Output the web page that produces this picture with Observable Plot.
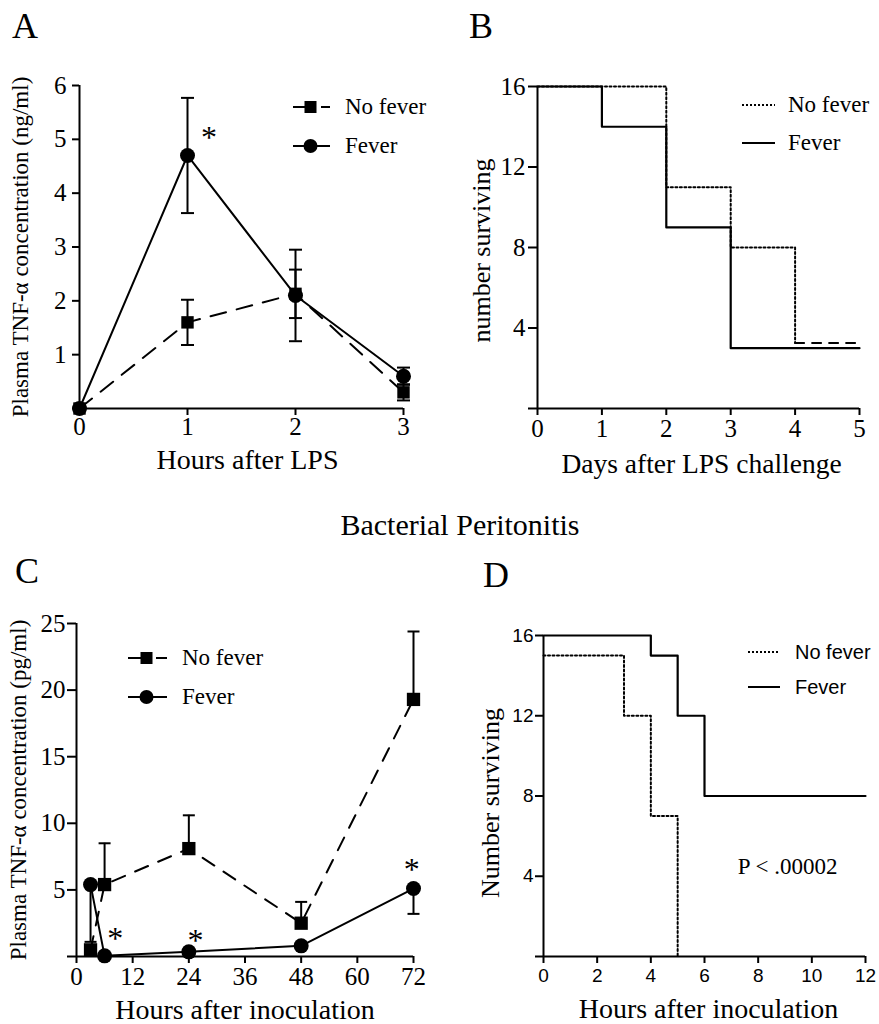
<!DOCTYPE html>
<html><head><meta charset="utf-8">
<script src="https://cdn.jsdelivr.net/npm/d3@7"></script>
<script src="https://cdn.jsdelivr.net/npm/@observablehq/plot@0.6"></script>
<style>
body{margin:0;background:#fff;}
#root{position:relative;width:879px;height:1024px;overflow:hidden;background:#fff;}
</style></head><body><div id="root"></div>
<script>
// ---------- Panel A: LPS, plasma TNF-alpha (ng/ml) ----------
const hoursA = [0, 1, 2, 3];
const noFeverA = [0, 1.6, 2.13, 0.3];
const noFeverErrA = [0, 0.42, 0.45, 0.15];
const feverA = [0, 4.7, 2.1, 0.6];
const feverErrA = [0, 1.07, 0.85, 0.16];
const starsA = [{x: 1.2, y: 5.15}];
const xTicksA = [0, 1, 2, 3];
const yTicksA = [0, 1, 2, 3, 4, 5, 6];

// ---------- Panel B: LPS survival ----------
const daysFeverB = [0, 1, 2, 3, 5];
const survFeverB = [16, 14, 9, 3, 3];
const daysNoFeverB = [0, 2, 3, 4, 5];
const survNoFeverB = [16, 11, 8, 3.25, 3.25];
const xTicksB = [0, 1, 2, 3, 4, 5];
const yTicksB = [0, 4, 8, 12, 16];

// ---------- Panel C: peritonitis, plasma TNF-alpha (pg/ml) ----------
const hoursC = [3, 6, 24, 48, 72];
const noFeverC = [0.5, 5.4, 8.1, 2.5, 19.3];
const noFeverErrC = [0, 3.1, 2.5, 1.6, 5.1];   // upper bars
const feverC = [5.4, 0.05, 0.35, 0.8, 5.1];
const feverErrC = [4.3, 0, 0, 0, 1.9];        // lower bars
const starsC = [{x: 8.3, y: 1.8}, {x: 25.4, y: 1.65}, {x: 71.6, y: 7.0}];
const xTicksC = [0, 12, 24, 36, 48, 60, 72];
const yTicksC = [0, 5, 10, 15, 20, 25];

// ---------- Panel D: peritonitis survival ----------
const hoursFeverD = [0, 4, 5, 6, 12];
const survFeverD = [16, 15, 12, 8, 8];
const hoursNoFeverD = [0, 3, 4, 5];
const survNoFeverD = [15, 12, 7, 0];
const pValueD = [{x: 9.1, y: 4.5, text: "P < .00002"}];
const xTicksD = [0, 2, 4, 6, 8, 10, 12];
const yTicksD = [0, 4, 8, 12, 16];

const SERIF = "Liberation Serif, Times New Roman, serif";
const SANS = "Liberation Sans, Arial, sans-serif";
const root = document.getElementById("root");
const capSymbol = {draw(ctx, size) { const r = Math.sqrt(size / Math.PI); ctx.moveTo(-r, 0); ctx.lineTo(r, 0); }};
const noZero = d => d === 0 ? "" : String(d);
const zip = (xs, ys, es) => xs.map((x, i) => ({x, y: ys[i], err: es ? es[i] : 0}));
const styleFor = (ff, fs) => ({fontFamily: ff, fontSize: fs + "px", background: "white", overflow: "visible", color: "black"});

function place(svg, left, top) {
  svg.style.position = "absolute";
  svg.style.left = left + "px";
  svg.style.top = top + "px";
  root.appendChild(svg);
}
function axes(o) {
  return [
    Plot.ruleX([o.x0], {strokeWidth: 2}),
    Plot.ruleY([0], {strokeWidth: 2}),
    Plot.axisX({ticks: o.xt, tickSize: o.xts, tickPadding: o.xtp, label: null, strokeWidth: 2, fontSize: o.fs, tickFormat: d => String(d)}),
    Plot.axisY({ticks: o.yt, tickSize: o.yts, tickPadding: o.ytp, label: null, strokeWidth: 2, fontSize: o.fs, tickFormat: noZero}),
    Plot.text([o.xl], {frameAnchor: "bottom", dx: o.xdx || 0, dy: o.xdy, lineAnchor: "bottom", textAnchor: "middle", fontSize: o.xlfs, fontFamily: SERIF, text: d => d}),
    Plot.text([o.yl], {frameAnchor: "left", dx: o.ydx, dy: o.ydy || 0, rotate: -90, lineAnchor: "bottom", textAnchor: "middle", fontSize: o.ylfs, fontFamily: SERIF, text: d => d})
  ];
}

// ---- A ----
const A_nf = zip(hoursA, noFeverA, noFeverErrA);
const A_f = zip(hoursA, feverA, feverErrA);
const errA = [...A_nf, ...A_f].filter(d => d.err > 0);
place(Plot.plot({
  width: 440, height: 430, marginLeft: 79, marginRight: 37, marginTop: 35, marginBottom: 72,
  x: {domain: [0, 3]}, y: {domain: [0, 6]},
  style: styleFor(SERIF, 25),
  marks: [
    ...axes({x0: 0, xt: xTicksA, yt: yTicksA, xts: 7, xtp: 2, yts: 7, ytp: 6, fs: 25,
      xl: "Hours after LPS", xdx: 6, xdy: 60, xlfs: 28, yl: "Plasma TNF-α concentration (ng/ml)", ydx: -52, ylfs: 23}),
    Plot.line(A_nf, {x: "x", y: "y", stroke: "black", strokeWidth: 2, strokeDasharray: "16,11"}),
    Plot.line(A_f, {x: "x", y: "y", stroke: "black", strokeWidth: 2}),
    Plot.ruleX(errA, {x: "x", y1: d => d.y - d.err, y2: d => d.y + d.err, strokeWidth: 2}),
    Plot.dot(errA, {x: "x", y: d => d.y + d.err, symbol: capSymbol, r: 6.5, stroke: "black", strokeWidth: 2}),
    Plot.dot(errA, {x: "x", y: d => d.y - d.err, symbol: capSymbol, r: 6.5, stroke: "black", strokeWidth: 2}),
    Plot.dot(A_nf, {x: "x", y: "y", symbol: "square", r: 7, fill: "black"}),
    Plot.dot(A_f, {x: "x", y: "y", symbol: "circle", r: 7.5, fill: "black"}),
    Plot.text(starsA, {x: "x", y: "y", text: () => "*", fontSize: 32, dy: 6, fontFamily: SERIF})
  ]
}), 0, 50);

// ---- B ----
const B_f = zip(daysFeverB, survFeverB);
const B_nf = zip(daysNoFeverB, survNoFeverB);
place(Plot.plot({
  width: 439, height: 430, marginLeft: 97, marginRight: 20, marginTop: 36, marginBottom: 72,
  x: {domain: [0, 5]}, y: {domain: [0, 16]},
  style: styleFor(SERIF, 25),
  marks: [
    ...axes({x0: 0, xt: xTicksB, yt: yTicksB, xts: 7, xtp: 4, yts: 9, ytp: 3, fs: 25,
      xl: "Days after LPS challenge", xdx: 3, xdy: 64, xlfs: 27.5, yl: "number surviving", ydx: -48, ydy: 3, ylfs: 26}),
    Plot.line(B_nf.slice(0, 4), {x: "x", y: "y", curve: "step-after", stroke: "black", strokeWidth: 2, strokeDasharray: "2,2.5"}),
    Plot.line(B_nf.slice(3), {x: "x", y: "y", curve: "step-after", stroke: "black", strokeWidth: 2, strokeDasharray: "9,8"}),
    Plot.line(B_f, {x: "x", y: "y", curve: "step-after", stroke: "black", strokeWidth: 2.2})
  ]
}), 440, 50);

// ---- C ----
const C_nf = zip(hoursC, noFeverC, noFeverErrC);
const C_f = zip(hoursC, feverC, feverErrC);
const C_nfErr = C_nf.filter(d => d.err > 0);
const C_fErr = C_f.filter(d => d.err > 0);
place(Plot.plot({
  width: 440, height: 434, marginLeft: 76, marginRight: 27, marginTop: 33, marginBottom: 68,
  x: {domain: [0, 72]}, y: {domain: [0, 25]},
  style: styleFor(SERIF, 25),
  marks: [
    ...axes({x0: 0, xt: xTicksC, yt: yTicksC, xts: 7, xtp: 4, yts: 9, ytp: 2, fs: 25,
      xl: "Hours after inoculation", xdx: 0, xdy: 62, xlfs: 28, yl: "Plasma TNF-α concentration (pg/ml)", ydx: -51, ylfs: 23}),
    Plot.line(C_nf, {x: "x", y: "y", stroke: "black", strokeWidth: 2, strokeDasharray: "14,11"}),
    Plot.line(C_f, {x: "x", y: "y", stroke: "black", strokeWidth: 2}),
    Plot.ruleX(C_nfErr, {x: "x", y1: "y", y2: d => d.y + d.err, strokeWidth: 2}),
    Plot.dot(C_nfErr, {x: "x", y: d => d.y + d.err, symbol: capSymbol, r: 6, stroke: "black", strokeWidth: 2}),
    Plot.ruleX(C_fErr, {x: "x", y1: d => d.y - d.err, y2: "y", strokeWidth: 2}),
    Plot.dot(C_fErr, {x: "x", y: d => d.y - d.err, symbol: capSymbol, r: 6, stroke: "black", strokeWidth: 2}),
    Plot.dot(C_nf, {x: "x", y: "y", symbol: "square", r: 7.5, fill: "black"}),
    Plot.dot(C_f, {x: "x", y: "y", symbol: "circle", r: 7.5, fill: "black"}),
    Plot.text(starsC, {x: "x", y: "y", text: () => "*", fontSize: 32, dy: 6, fontFamily: SERIF})
  ]
}), 0, 590);

// ---- D ----
const D_f = zip(hoursFeverD, survFeverD);
const D_nf = zip(hoursNoFeverD, survNoFeverD);
place(Plot.plot({
  width: 439, height: 434, marginLeft: 103, marginRight: 14, marginTop: 45, marginBottom: 68,
  x: {domain: [0, 12]}, y: {domain: [0, 16]},
  style: styleFor(SANS, 19),
  marks: [
    ...axes({x0: 0, xt: xTicksD, yt: yTicksD, xts: 7, xtp: 5, yts: 8, ytp: 2, fs: 19,
      xl: "Hours after inoculation", xdx: 4, xdy: 61, xlfs: 28, yl: "Number surviving", ydx: -45, ydy: 7, ylfs: 26}),
    Plot.line(D_nf, {x: "x", y: "y", curve: "step-after", stroke: "black", strokeWidth: 2, strokeDasharray: "2,2.5"}),
    Plot.line(D_f, {x: "x", y: "y", curve: "step-after", stroke: "black", strokeWidth: 2.2}),
    Plot.text(pValueD, {x: "x", y: "y", text: "text", fontSize: 23, fontFamily: SERIF})
  ]
}), 440, 590);

// ---------- overlay: panel letters, section title, legends ----------
const ov = d3.select(root).append("svg")
  .attr("width", 879).attr("height", 1024)
  .style("position", "absolute").style("left", "0px").style("top", "0px")
  .style("pointer-events", "none")
  .attr("font-family", SERIF);

const letters = [["A", 12, 38], ["B", 469, 38], ["C", 15, 583], ["D", 483, 587]];
ov.selectAll("text.letter").data(letters).join("text").attr("class", "letter")
  .attr("x", d => d[1]).attr("y", d => d[2]).attr("font-size", 36).text(d => d[0]);
ov.append("text").attr("x", 460).attr("y", 535).attr("text-anchor", "middle")
  .attr("font-size", 30).text("Bacterial Peritonitis");

function legend(x0, x1, tx, rows, fs, ff) {
  rows.forEach(r => {
    const l = ov.append("line").attr("x1", x0).attr("x2", x1).attr("y1", r.y).attr("y2", r.y)
      .attr("stroke", "black").attr("stroke-width", 2);
    if (r.dash) l.attr("stroke-dasharray", r.dash);
    const cx = (x0 + x1) / 2 - 1;
    if (r.sym === "square") ov.append("rect").attr("x", cx - 6).attr("y", r.y - 6).attr("width", 12).attr("height", 12);
    if (r.sym === "circle") ov.append("circle").attr("cx", cx).attr("cy", r.y).attr("r", 7);
    ov.append("text").attr("x", tx).attr("y", r.ty).attr("font-size", fs).attr("font-family", ff).text(r.label);
  });
}
legend(293, 330, 345, [
  {y: 107, ty: 114, label: "No fever", sym: "square", dash: "20,8,10"},
  {y: 146, ty: 153, label: "Fever", sym: "circle"}], 23, SERIF);
legend(742, 775, 788, [
  {y: 105, ty: 112, label: "No fever", dash: "2,2"},
  {y: 143, ty: 150, label: "Fever"}], 23, SERIF);
legend(128, 167, 182, [
  {y: 658, ty: 665, label: "No fever", sym: "square", dash: "20,8,12"},
  {y: 697, ty: 704, label: "Fever", sym: "circle"}], 23, SERIF);
legend(748, 780, 795, [
  {y: 652, ty: 659, label: "No fever", dash: "2,2"},
  {y: 687, ty: 694, label: "Fever"}], 20, SANS);
</script>
</body></html>
